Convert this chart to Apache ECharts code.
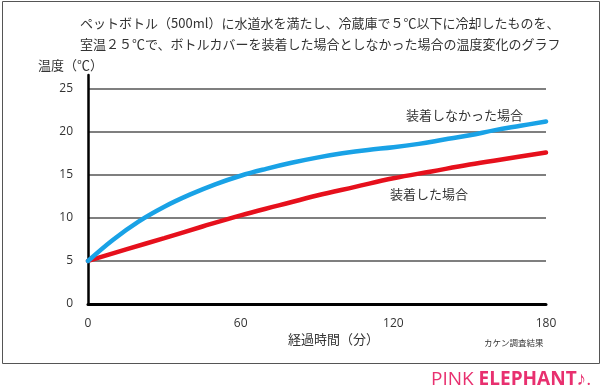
<!DOCTYPE html>
<html><head><meta charset="utf-8">
<script src="https://cdn.jsdelivr.net/npm/echarts@6/dist/echarts.min.js"></script>
<style>html,body{margin:0;padding:0;background:#fff}#c{width:602px;height:392px}</style>
</head><body><div id="c"></div>
<script>
const titleLines = ["ペットボトル（500ml）に水道水を満たし、冷蔵庫で５℃以下に冷却したものを、", "室温２５℃で、ボトルカバーを装着した場合としなかった場合の温度変化のグラフ"];
const yAxisName = "温度（℃）";
const xAxisName = "経過時間（分）";
const sourceNote = "カケン調査結果";
const seriesNames = ["装着しなかった場合", "装着した場合"];
const blueTimes = [0,10,20,30,40,50,60,70,80,90,100,110,120,130,140,150,160,170,180];
const blueValues = [5,7.5,9.6,11.3,12.7,13.9,14.9,15.7,16.4,17.0,17.5,17.9,18.2,18.6,19.1,19.6,20.2,20.7,21.2];
const redTimes = [0,15,30,45,60,75,90,105,120,135,150,165,180];
const redValues = [5,6.35,7.65,9.0,10.3,11.45,12.6,13.6,14.6,15.4,16.2,16.9,17.6];
const labelPositions = [[148, 22.0], [134, 12.8]];

const FONT = '"Noto Sans CJK JP", "Noto Sans", sans-serif';
const chart = echarts.init(document.getElementById('c'), null, {renderer: 'canvas'});
const pair = (xs, ys) => xs.map((x, i) => [x, ys[i]]);
const colors = ['#19a2e6', '#e6101c'];

chart.setOption({
  animation: false,
  textStyle: {fontFamily: FONT},
  grid: {left: 88, right: 56, top: 75, bottom: 88},
  graphic: [
    {type: 'rect', shape: {x: 2.5, y: 1.5, width: 597, height: 362}, style: {fill: 'none', stroke: '#555', lineWidth: 1}, silent: true},
    {type: 'text', left: 80, top: 17, style: {text: titleLines[0], font: '13px ' + FONT, fill: '#333'}},
    {type: 'text', left: 80, top: 38, style: {text: titleLines[1], font: '13px ' + FONT, fill: '#333'}},
    {type: 'text', left: 38, top: 59, style: {text: yAxisName, font: '13px ' + FONT, fill: '#333'}},
    {type: 'text', left: 288, top: 333, style: {text: xAxisName, font: '13px ' + FONT, fill: '#333'}},
    {type: 'text', left: 484, top: 339, style: {text: sourceNote, font: '8.5px ' + FONT, fill: '#333'}},
    {type: 'text', left: 431, top: 370, style: {
      rich: {a: {fontSize: 19, fontFamily: '"Open Sans", sans-serif', fill: '#e8306f'}, b: {fontSize: 19, fontWeight: 'bold', fontFamily: '"Open Sans", sans-serif', fill: '#e8306f'}},
      text: '{a|PINK }{b|ELEPHANT}{a|♪.}'
    }}
  ],
  xAxis: {
    type: 'value', min: 0, max: 180, interval: 60,
    axisLine: {show: true, onZero: false, lineStyle: {color: '#000', width: 3}},
    axisTick: {show: false},
    splitLine: {show: false},
    axisLabel: {color: '#333', fontSize: 12, margin: 14, fontFamily: '"Open Sans", sans-serif'}
  },
  yAxis: {
    type: 'value', min: 0, max: 26.6, interval: 5,
    axisLine: {show: true, lineStyle: {color: '#000', width: 2.5}},
    axisTick: {show: false},
    splitLine: {show: true, showMaxLine: false, lineStyle: {color: '#555', width: 1.5}},
    axisLabel: {color: '#333', fontSize: 12, margin: 15, fontFamily: '"Open Sans", sans-serif',
      formatter: v => (Math.abs(v % 5) < 1e-6 ? String(v) : '')}
  },
  series: [
    {
      name: seriesNames[0], type: 'line', smooth: 0.4, symbol: 'none',
      data: pair(blueTimes, blueValues), z: 3,
      lineStyle: {color: colors[0], width: 4.5, cap: 'round'},
      markPoint: {symbol: 'circle', symbolSize: 0, data: [{coord: labelPositions[0], value: seriesNames[0]}],
        label: {show: true, position: 'inside', formatter: seriesNames[0], color: '#333', fontSize: 13, fontFamily: FONT}}
    },
    {
      name: seriesNames[1], type: 'line', smooth: 0.4, symbol: 'none',
      data: pair(redTimes, redValues), z: 2,
      lineStyle: {color: colors[1], width: 4.5, cap: 'round'},
      markPoint: {symbol: 'circle', symbolSize: 0, data: [{coord: labelPositions[1], value: seriesNames[1]}],
        label: {show: true, position: 'inside', formatter: seriesNames[1], color: '#333', fontSize: 13, fontFamily: FONT}}
    }
  ]
});
</script></body></html>
